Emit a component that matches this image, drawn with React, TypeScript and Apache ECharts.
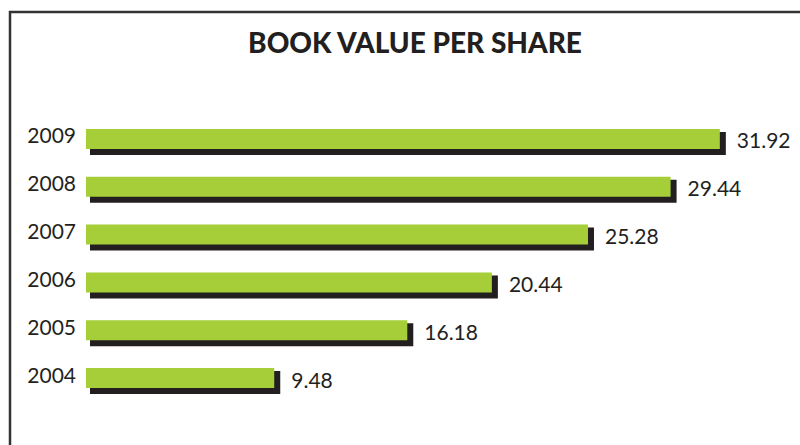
import React, { useEffect, useRef } from "react";
import * as echarts from "echarts";

const years: string[] = ["2004", "2005", "2006", "2007", "2008", "2009"];
const values: number[] = [9.48, 16.18, 20.44, 25.28, 29.44, 31.92];
const titleText = "BOOK VALUE PER SHARE";

const GREEN = "#a6ce39";
const DARK = "#231f20";
const FONT = "Lato, 'Noto Sans', sans-serif";

export default function App() {
  const ref = useRef<HTMLDivElement>(null);
  useEffect(() => {
    if (!ref.current) return;
    const chart = echarts.init(ref.current, undefined, { renderer: "svg" });
    const data = values.map((v, i) => [v, i]);
    chart.setOption({
      animation: false,
      backgroundColor: "#ffffff",
      title: {
        text: titleText,
        left: 410,
        top: 23,
        textAlign: "center",
        textStyle: {
          fontFamily: FONT,
          fontWeight: 900,
          fontSize: 28,
          color: DARK,
        },
      },
      graphic: [
        {
          type: "rect",
          shape: { x: 10, y: 12, width: 820, height: 460 },
          style: { fill: "none", stroke: "#333333", lineWidth: 2.5 },
          silent: true,
        },
      ],
      grid: { left: 86, top: 115, width: 695, height: 287, containLabel: false },
      xAxis: {
        type: "value",
        min: 0,
        max: 35,
        show: false,
      },
      yAxis: {
        type: "category",
        data: years,
        axisLine: { show: false },
        axisTick: { show: false },
        splitLine: { show: false },
        axisLabel: {
          margin: 10,
          fontFamily: FONT,
          fontSize: 21,
          color: DARK,
          verticalAlign: "bottom",
          lineHeight: 8,
        },
      },
      series: [
        {
          type: "custom",
          data,
          encode: { x: 0, y: 1 },
          renderItem: (params: any, api: any) => {
            const v = api.value(0);
            const c = api.value(1);
            const s = api.coord([0, c]);
            const e = api.coord([v, c]);
            const bw = 20;
            const w = e[0] - s[0];
            const top = s[1] - bw / 2;
            return {
              type: "group",
              children: [
                {
                  type: "rect",
                  shape: { x: s[0] + 4, y: top + 3, width: w + 2, height: bw + 3 },
                  style: { fill: DARK },
                },
                {
                  type: "rect",
                  shape: { x: s[0], y: top, width: w, height: bw },
                  style: { fill: GREEN },
                },
                {
                  type: "text",
                  x: e[0] + 17,
                  y: s[1] + 1,
                  style: {
                    text: v.toFixed(2),
                    fontFamily: FONT,
                    fontSize: 21,
                    fill: DARK,
                    verticalAlign: "middle",
                    align: "left",
                  },
                },
              ],
            };
          },
        },
      ],
    });
    return () => chart.dispose();
  }, []);
  return (
    <div
      ref={ref}
      style={{ position: "fixed", left: 0, top: 0, width: 800, height: 445 }}
    />
  );
}
